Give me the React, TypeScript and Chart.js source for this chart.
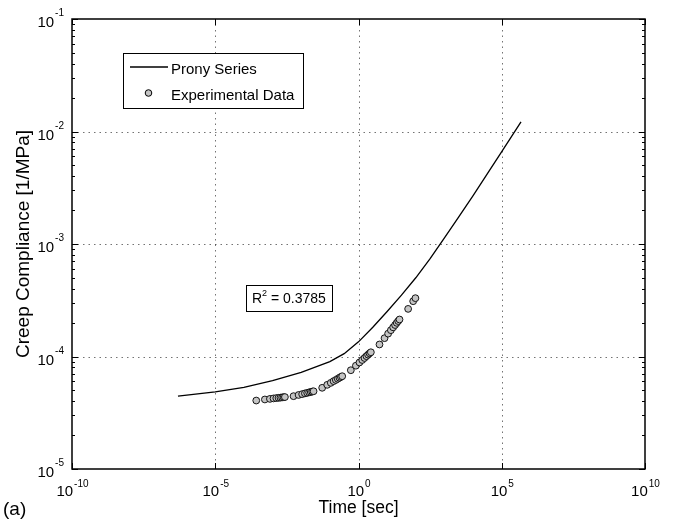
import React, { useEffect, useRef } from "react";
import { Chart, registerables } from "chart.js";

Chart.register(...registerables);

// Prony series fit (time [sec], creep compliance [1/MPa])
const pronyTime = [5.0e-7, 1e-5, 1e-4, 1e-3, 1e-2, 0.1, 0.316, 1, 3.16, 10, 31.6, 100, 316, 1000, 3160, 1e4, 31600, 1e5, 4.7e5];
const pronyCompliance = [4.44e-5, 4.85e-5, 5.31e-5, 6.1e-5, 7.24e-5, 9.02e-5, 1.06e-4, 1.35e-4, 1.82e-4, 2.51e-4, 3.51e-4, 5.01e-4, 7.41e-4, 1.135e-3, 1.74e-3, 2.69e-3, 4.22e-3, 6.61e-3, 1.22e-2];

// Experimental data
const expTime = [
  2.7e-4, 5.4e-4, 8.1e-4, 1.08e-3, 1.35e-3, 1.62e-3, 1.89e-3, 2.16e-3, 2.43e-3, 2.7e-3,
  5.4e-3, 8.1e-3, 1.08e-2, 1.35e-2, 1.62e-2, 1.89e-2, 2.16e-2, 2.43e-2, 2.7e-2,
  5.4e-2, 8.1e-2, 0.108, 0.135, 0.162, 0.189, 0.216, 0.243, 0.27,
  0.54, 0.81, 1.08, 1.35, 1.62, 1.89, 2.16, 2.43, 2.7,
  5.4, 8.1, 10.8, 13.5, 16.2, 18.9, 21.6, 24.3, 27,
  54, 81, 97,
];
const expCompliance = [
  4.06e-5, 4.15e-5, 4.2e-5, 4.24e-5, 4.27e-5, 4.29e-5, 4.31e-5, 4.33e-5, 4.35e-5, 4.36e-5,
  4.44e-5, 4.55e-5, 4.63e-5, 4.7e-5, 4.75e-5, 4.8e-5, 4.84e-5, 4.88e-5, 4.91e-5,
  5.27e-5, 5.6e-5, 5.83e-5, 6.04e-5, 6.19e-5, 6.34e-5, 6.47e-5, 6.58e-5, 6.68e-5,
  7.55e-5, 8.28e-5, 8.85e-5, 9.31e-5, 9.7e-5, 1.007e-4, 1.038e-4, 1.067e-4, 1.091e-4,
  1.279e-4, 1.455e-4, 1.596e-4, 1.714e-4, 1.816e-4, 1.905e-4, 1.991e-4, 2.065e-4, 2.133e-4,
  2.65e-4, 3.1e-4, 3.3e-4,
];

const xTickValues = [1e-10, 1e-5, 1, 1e5, 1e10];
const xTickExponents = ["-10", "-5", "0", "5", "10"];
const yTickValues = [1e-5, 1e-4, 1e-3, 1e-2, 1e-1];
const yTickExponents = ["-5", "-4", "-3", "-2", "-1"];
const xGridValues = [1e-5, 1, 1e5];
const yGridValues = [1e-4, 1e-3, 1e-2];

const xTitle = "Time [sec]";
const yTitle = "Creep Compliance [1/MPa]";
const legendLabels = ["Prony Series", "Experimental Data"];
const rSquaredText = "= 0.3785";
const panelLabel = "(a)";

const FONT = '"Liberation Sans", Arial, Helvetica, sans-serif';
const MARKER_FILL = "#c4c4c4";

const decorPlugin = {
  id: "matlabDecor",
  beforeDatasetsDraw(chart: any) {
    const { ctx, chartArea: a, scales } = chart;
    const xs = scales.x;
    const ys = scales.y;
    ctx.save();
    ctx.strokeStyle = "rgba(0,0,0,0.55)";
    ctx.lineWidth = 1;
    ctx.setLineDash([1.5, 4]);
    for (const v of xGridValues) {
      const px = Math.round(xs.getPixelForValue(v)) + 0.5;
      ctx.beginPath();
      ctx.moveTo(px, a.top);
      ctx.lineTo(px, a.bottom);
      ctx.stroke();
    }
    for (const v of yGridValues) {
      const py = Math.round(ys.getPixelForValue(v)) + 0.5;
      ctx.beginPath();
      ctx.moveTo(a.left, py);
      ctx.lineTo(a.right, py);
      ctx.stroke();
    }
    ctx.restore();
  },
  afterDatasetsDraw(chart: any) {
    const { ctx, chartArea: a, scales } = chart;
    const xs = scales.x;
    const ys = scales.y;
    ctx.save();
    ctx.setLineDash([]);
    ctx.strokeStyle = "#000";
    // ticks
    ctx.lineWidth = 1;
    for (const v of xTickValues) {
      const px = Math.round(xs.getPixelForValue(v)) + 0.5;
      ctx.beginPath();
      ctx.moveTo(px, a.bottom);
      ctx.lineTo(px, a.bottom - 6);
      ctx.moveTo(px, a.top);
      ctx.lineTo(px, a.top + 6);
      ctx.stroke();
    }
    for (let d = -5; d <= -1; d++) {
      const py = Math.round(ys.getPixelForValue(Math.pow(10, d))) + 0.5;
      ctx.beginPath();
      ctx.moveTo(a.left, py);
      ctx.lineTo(a.left + 6, py);
      ctx.moveTo(a.right, py);
      ctx.lineTo(a.right - 6, py);
      ctx.stroke();
      if (d < -1) {
        for (let m = 2; m <= 9; m++) {
          const pm = Math.round(ys.getPixelForValue(m * Math.pow(10, d))) + 0.5;
          ctx.beginPath();
          ctx.moveTo(a.left, pm);
          ctx.lineTo(a.left + 3, pm);
          ctx.moveTo(a.right, pm);
          ctx.lineTo(a.right - 3, pm);
          ctx.stroke();
        }
      }
    }
    // box
    ctx.lineWidth = 1.5;
    ctx.strokeRect(a.left, a.top, a.right - a.left, a.bottom - a.top);

    // tick labels
    ctx.fillStyle = "#000";
    ctx.textBaseline = "alphabetic";
    ctx.textAlign = "left";
    const baseFont = `15px ${FONT}`;
    const expFont = `10px ${FONT}`;
    xTickValues.forEach((v, i) => {
      const px = xs.getPixelForValue(v);
      ctx.font = baseFont;
      const wb = ctx.measureText("10").width;
      ctx.font = expFont;
      const we = ctx.measureText(xTickExponents[i]).width;
      const x0 = px - (wb + we) / 2;
      ctx.font = baseFont;
      ctx.fillText("10", x0, a.bottom + 27);
      ctx.font = expFont;
      ctx.fillText(xTickExponents[i], x0 + wb + 1, a.bottom + 18);
    });
    yTickValues.forEach((v, i) => {
      const py = ys.getPixelForValue(v);
      ctx.font = expFont;
      const we = ctx.measureText(yTickExponents[i]).width;
      ctx.font = baseFont;
      const wb = ctx.measureText("10").width;
      const right = a.left - 8;
      ctx.font = baseFont;
      ctx.fillText("10", right - we - wb - 1, py + 8);
      ctx.font = expFont;
      ctx.fillText(yTickExponents[i], right - we, py - 3);
    });

    // axis titles
    ctx.font = `17.5px ${FONT}`;
    ctx.textAlign = "center";
    ctx.fillText(xTitle, (a.left + a.right) / 2, 513);
    ctx.save();
    ctx.font = `19px ${FONT}`;
    ctx.translate(29, (a.top + a.bottom) / 2);
    ctx.rotate(-Math.PI / 2);
    ctx.fillText(yTitle, 0, 0);
    ctx.restore();

    // panel label
    ctx.textAlign = "left";
    ctx.font = `19px ${FONT}`;
    ctx.fillText(panelLabel, 3, 515);

    // legend
    const lx = 123, ly = 53, lw = 180, lh = 55;
    ctx.fillStyle = "#fff";
    ctx.fillRect(lx, ly, lw, lh);
    ctx.lineWidth = 1;
    ctx.strokeStyle = "#000";
    ctx.strokeRect(lx + 0.5, ly + 0.5, lw, lh);
    ctx.lineWidth = 1.3;
    ctx.beginPath();
    ctx.moveTo(130, 67);
    ctx.lineTo(168, 67);
    ctx.stroke();
    ctx.beginPath();
    ctx.arc(148.5, 93, 3.3, 0, Math.PI * 2);
    ctx.fillStyle = MARKER_FILL;
    ctx.fill();
    ctx.lineWidth = 1;
    ctx.stroke();
    ctx.fillStyle = "#000";
    ctx.font = `15px ${FONT}`;
    ctx.fillText(legendLabels[0], 171, 74);
    ctx.fillText(legendLabels[1], 171, 100);

    // R^2 annotation
    const bx = 246, by = 285, bw = 86, bh = 26;
    ctx.fillStyle = "#fff";
    ctx.fillRect(bx, by, bw, bh);
    ctx.lineWidth = 1;
    ctx.strokeRect(bx + 0.5, by + 0.5, bw, bh);
    ctx.fillStyle = "#000";
    ctx.font = `14px ${FONT}`;
    ctx.fillText("R", 252, 303);
    const wR = ctx.measureText("R").width;
    ctx.font = `9px ${FONT}`;
    ctx.fillText("2", 252 + wR, 296);
    const w2 = ctx.measureText("2").width;
    ctx.font = `14px ${FONT}`;
    ctx.fillText(" " + rSquaredText, 252 + wR + w2, 303);

    ctx.restore();
  },
};

export default function App() {
  const canvasRef = useRef<HTMLCanvasElement | null>(null);

  useEffect(() => {
    document.body.style.margin = "0";
    const canvas = canvasRef.current;
    if (!canvas) return;
    const chart = new Chart(canvas, {
      type: "scatter",
      data: {
        datasets: [
          {
            label: legendLabels[0],
            data: pronyTime.map((t, i) => ({ x: t, y: pronyCompliance[i] })),
            showLine: true,
            borderColor: "#000",
            borderWidth: 1.3,
            pointRadius: 0,
            fill: false,
            tension: 0,
          },
          {
            label: legendLabels[1],
            data: expTime.map((t, i) => ({ x: t, y: expCompliance[i] })),
            showLine: false,
            pointRadius: 3.4,
            pointBackgroundColor: MARKER_FILL,
            pointBorderColor: "#000",
            pointBorderWidth: 0.9,
          },
        ],
      },
      options: {
        animation: false,
        responsive: false,
        devicePixelRatio: 1,
        layout: { padding: { left: 72, right: 28, top: 19, bottom: 52 } },
        plugins: { legend: { display: false }, tooltip: { enabled: false } },
        events: [],
        scales: {
          x: { type: "logarithmic", min: 1e-10, max: 1e10, display: false },
          y: { type: "logarithmic", min: 1e-5, max: 1e-1, display: false },
        },
      },
      plugins: [decorPlugin],
    });
    return () => chart.destroy();
  }, []);

  return (
    <div style={{ position: "absolute", left: 0, top: 0, width: 673, height: 521, background: "#fff" }}>
      <canvas ref={canvasRef} width={673} height={521} style={{ display: "block" }} />
    </div>
  );
}
